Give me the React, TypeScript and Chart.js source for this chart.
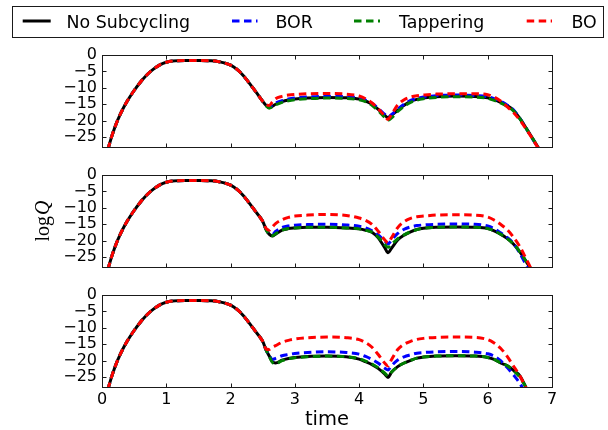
import React, { useEffect, useRef } from "react";
import { Chart, registerables } from "chart.js";

Chart.register(...registerables);

// ---------------- data ----------------
const LEGEND_LABELS = ["No Subcycling", "BOR", "Tappering", "BO"];
const COLORS = ["#000000", "#0000ff", "#008000", "#ff0000"];

const X_TICKS = [0, 1, 2, 3, 4, 5, 6, 7];
const Y_TICKS = [-25, -20, -15, -10, -5, 0];
const X_MIN = 0;
const X_MAX = 7;
const Y_MIN = -28;
const Y_MAX = 0;

// shared early part (all runs coincide up to t = 2.5)
const commonTimes = [0.05, 0.1, 0.2, 0.3, 0.4, 0.5, 0.6, 0.7, 0.8, 0.9, 1.0, 1.1, 1.3, 1.5, 1.7, 1.8, 1.9, 2.0, 2.1, 2.2, 2.3, 2.4, 2.5];
const commonLogQ = [-32.5, -28.2, -22.0, -17.4, -13.8, -10.8, -8.2, -6.0, -4.3, -3.0, -2.2, -1.85, -1.7, -1.7, -1.75, -1.95, -2.4, -3.1, -4.4, -6.3, -8.8, -11.4, -14.1];

const tailTimes = [2.55, 2.6, 2.65, 2.7, 2.8, 2.9, 3.0, 3.2, 3.5, 3.8, 4.0, 4.1, 4.2, 4.3, 4.4, 4.45, 4.5, 4.6, 4.7, 4.8, 4.9, 5.0, 5.2, 5.5, 5.8, 6.0, 6.1, 6.2, 6.3, 6.4, 6.5, 6.6, 6.7, 6.8];

// panel 1
const p1NoSub = [-15.3, -16.0, -15.6, -15.0, -14.2, -13.7, -13.4, -13.1, -12.9, -13.0, -13.4, -14.0, -15.0, -16.6, -18.4, -19.1, -18.4, -16.8, -15.3, -14.1, -13.5, -13.1, -12.7, -12.5, -12.6, -13.0, -13.6, -14.4, -15.4, -16.8, -19.3, -22.3, -25.4, -28.6];
const p1BOR = [-15.3, -15.9, -15.2, -14.6, -13.9, -13.4, -13.1, -12.8, -12.6, -12.7, -13.1, -13.7, -14.7, -16.3, -18.1, -18.9, -18.2, -16.5, -15.0, -13.8, -13.2, -12.8, -12.4, -12.2, -12.3, -12.7, -13.3, -14.1, -15.2, -16.7, -19.3, -22.4, -25.6, -28.8];
const p1Tap = [-15.4, -16.2, -15.8, -15.2, -14.4, -13.9, -13.6, -13.3, -13.1, -13.2, -13.6, -14.2, -15.3, -17.0, -19.0, -19.8, -19.2, -17.2, -15.6, -14.4, -13.7, -13.3, -12.9, -12.7, -12.8, -13.2, -13.8, -14.6, -15.6, -17.0, -19.4, -22.4, -25.5, -28.6];
const p1BO = [-15.0, -15.4, -14.3, -13.3, -12.6, -12.2, -12.0, -11.8, -11.7, -11.9, -12.5, -13.3, -14.6, -16.4, -18.6, -19.6, -18.2, -15.2, -13.6, -12.8, -12.4, -12.2, -11.9, -11.8, -11.8, -12.1, -12.8, -14.0, -15.7, -17.5, -19.8, -22.6, -25.6, -28.8];

// panel 2
const p2NoSub = [-16.5, -18.0, -18.6, -18.0, -16.8, -16.3, -16.1, -15.9, -15.9, -16.1, -16.4, -16.8, -17.4, -19.2, -22.2, -23.7, -22.4, -19.8, -18.3, -17.3, -16.6, -16.2, -15.9, -15.8, -15.9, -16.3, -17.0, -18.0, -19.3, -21.0, -23.4, -26.4, -29.5, -33.0];
const p2BOR = [-16.4, -17.7, -18.1, -17.2, -16.0, -15.5, -15.3, -15.1, -15.0, -15.2, -15.6, -16.1, -17.0, -18.3, -20.2, -21.0, -19.9, -17.8, -16.5, -15.8, -15.4, -15.2, -15.0, -14.9, -15.0, -15.5, -16.3, -17.6, -19.0, -20.8, -23.8, -27.5, -31.0, -34.0];
const p2Tap = [-16.5, -18.0, -18.5, -17.9, -16.8, -16.3, -16.1, -15.9, -15.9, -16.1, -16.4, -16.8, -17.4, -19.0, -21.2, -22.0, -21.2, -19.4, -18.2, -17.3, -16.6, -16.2, -15.9, -15.8, -15.9, -16.3, -17.0, -18.0, -19.3, -21.0, -23.4, -26.4, -29.5, -33.0];
const p2BO = [-16.2, -16.8, -15.8, -14.8, -13.6, -12.9, -12.5, -12.2, -12.0, -12.3, -13.1, -13.8, -15.0, -17.2, -19.8, -20.6, -19.2, -16.0, -14.2, -13.2, -12.7, -12.5, -12.2, -12.1, -12.2, -12.8, -13.7, -15.0, -16.6, -18.9, -21.8, -25.6, -29.5, -33.0];

// panel 3
const p3NoSub = [-16.6, -18.5, -20.3, -20.7, -19.8, -19.3, -19.0, -18.7, -18.6, -18.8, -19.5, -20.3, -21.2, -22.4, -24.1, -25.1, -23.6, -21.8, -20.7, -19.9, -19.2, -18.9, -18.6, -18.5, -18.6, -19.0, -19.6, -20.7, -21.5, -22.9, -24.6, -28.3, -32.0, -36.0];
const p3BOR = [-16.6, -18.3, -19.6, -19.3, -18.5, -18.1, -17.8, -17.5, -17.3, -17.5, -18.0, -18.7, -19.6, -20.8, -22.3, -22.8, -21.6, -19.8, -18.8, -18.2, -17.7, -17.5, -17.3, -17.2, -17.4, -17.9, -18.6, -20.0, -22.0, -24.3, -26.9, -30.5, -34.0, -38.0];
const p3Tap = [-16.6, -18.6, -20.5, -20.9, -20.0, -19.4, -19.1, -18.8, -18.6, -18.8, -19.4, -20.1, -21.0, -22.2, -23.8, -24.6, -23.5, -21.8, -20.7, -19.9, -19.2, -18.9, -18.6, -18.5, -18.6, -19.0, -19.6, -20.6, -21.5, -23.0, -25.0, -28.3, -32.0, -36.0];
const p3BO = [-16.4, -16.6, -15.9, -15.4, -14.4, -13.8, -13.4, -13.0, -12.8, -13.0, -13.6, -14.5, -15.9, -18.2, -20.8, -21.6, -19.8, -16.6, -15.0, -14.1, -13.5, -13.2, -12.9, -12.8, -12.9, -13.6, -14.6, -16.2, -18.6, -21.6, -24.6, -28.5, -32.0, -36.0];

const PANEL_SERIES = [
  [p1NoSub, p1BOR, p1Tap, p1BO],
  [p2NoSub, p2BOR, p2Tap, p2BO],
  [p3NoSub, p3BOR, p3Tap, p3BO],
];

// ---------------- layout ----------------
const W = 608;
const FONT = "'DejaVu Sans', sans-serif";
const DASH = [7.5, 4.5];

type PanelLayout = {
  top: number;
  height: number;
  padTop: number;
  padBottom: number;
  showX: boolean;
};

const PANELS: PanelLayout[] = [
  { top: 0, height: 160, padTop: 55, padBottom: 13, showX: false },
  { top: 160, height: 120, padTop: 15, padBottom: 13, showX: false },
  { top: 280, height: 150, padTop: 15, padBottom: 0, showX: true },
];

const fmt = (v: number) => (v < 0 ? "\u2212" + String(-v) : String(v));

const framePlugin = {
  id: "frame",
  afterDatasetsDraw(chart: any) {
    const { ctx, chartArea, scales } = chart;
    const L = Math.round(chartArea.left) + 0.5;
    const R = Math.round(chartArea.right) + 0.5;
    const T = Math.round(chartArea.top) + 0.5;
    const B = Math.round(chartArea.bottom) + 0.5;
    ctx.save();
    ctx.strokeStyle = "#1a1a1a";
    ctx.lineWidth = 1;
    ctx.setLineDash([]);
    ctx.strokeRect(L, T, R - L, B - T);
    ctx.beginPath();
    for (const xv of X_TICKS) {
      const px = Math.round(scales.x.getPixelForValue(xv)) + 0.5;
      ctx.moveTo(px, B);
      ctx.lineTo(px, B - 4);
      ctx.moveTo(px, T);
      ctx.lineTo(px, T + 4);
    }
    for (const yv of Y_TICKS) {
      const py = Math.round(scales.y.getPixelForValue(yv)) + 0.5;
      ctx.moveTo(L, py);
      ctx.lineTo(L + 4, py);
      ctx.moveTo(R, py);
      ctx.lineTo(R - 4, py);
    }
    ctx.stroke();
    ctx.restore();
  },
};

const LEGEND_HANDLES = [
  [22.7, 50.7],
  [232, 257.5],
  [354, 380],
  [526.7, 552],
];
const LEGEND_TEXT_X = [66.6, 275.5, 399, 571.5];

const legendPlugin = {
  id: "boxLegend",
  afterDraw(chart: any) {
    const ctx = chart.ctx;
    ctx.save();
    ctx.strokeStyle = "#1a1a1a";
    ctx.lineWidth = 1;
    ctx.setLineDash([]);
    ctx.strokeRect(12.5, 6.5, 591, 31);
    for (let i = 0; i < LEGEND_LABELS.length; i++) {
      ctx.beginPath();
      ctx.strokeStyle = COLORS[i];
      ctx.lineWidth = 3;
      ctx.lineCap = "butt";
      ctx.setLineDash(i === 0 ? [] : DASH);
      ctx.moveTo(LEGEND_HANDLES[i][0], 21);
      ctx.lineTo(LEGEND_HANDLES[i][1], 21);
      ctx.stroke();
      ctx.setLineDash([]);
      ctx.fillStyle = "#000";
      ctx.font = "17.4px " + FONT;
      ctx.textBaseline = "alphabetic";
      ctx.textAlign = "left";
      ctx.fillText(LEGEND_LABELS[i], LEGEND_TEXT_X[i], 27.5);
    }
    ctx.restore();
  },
};

const ylabelPlugin = {
  id: "ylabel",
  afterDraw(chart: any) {
    const ctx = chart.ctx;
    ctx.save();
    const cy = (chart.chartArea.top + chart.chartArea.bottom) / 2;
    ctx.translate(49, cy);
    ctx.rotate(-Math.PI / 2);
    ctx.fillStyle = "#000";
    ctx.textBaseline = "alphabetic";
    ctx.textAlign = "left";
    const f1 = "20px 'Liberation Serif', serif";
    const f2 = "italic 20px 'Liberation Serif', serif";
    ctx.font = f1;
    const w1 = ctx.measureText("log").width;
    ctx.font = f2;
    const w2 = ctx.measureText("Q").width;
    const start = -(w1 + 1 + w2) / 2;
    ctx.font = f1;
    ctx.fillText("log", start, 0);
    ctx.font = f2;
    ctx.fillText("Q", start + w1 + 1, 0);
    ctx.restore();
  },
};

function makeChart(canvas: HTMLCanvasElement, idx: number): Chart {
  const layout = PANELS[idx];
  const series = PANEL_SERIES[idx];
  const times = [...commonTimes, ...tailTimes];
  const datasets = series.map((vals, i) => {
    const ys = [...commonLogQ, ...vals];
    return {
      label: LEGEND_LABELS[i],
      data: times.map((t, k) => ({ x: t, y: ys[k] })),
      borderColor: COLORS[i],
      backgroundColor: COLORS[i],
      borderWidth: 3,
      borderDash: i === 0 ? [] : DASH,
      borderCapStyle: "butt" as const,
      borderJoinStyle: "round" as const,
      pointRadius: 0,
      fill: false,
      cubicInterpolationMode: "monotone" as const,
      clip: 0,
      order: 3 - i,
    };
  });

  const plugins: any[] = [framePlugin];
  if (idx === 0) plugins.push(legendPlugin);
  if (idx === 1) plugins.push(ylabelPlugin);

  return new Chart(canvas, {
    type: "line",
    data: { datasets },
    plugins,
    options: {
      animation: false,
      responsive: false,
      devicePixelRatio: 1,
      events: [],
      layout: {
        padding: { left: 0, right: 56, top: layout.padTop, bottom: layout.padBottom },
      },
      plugins: {
        legend: { display: false },
        tooltip: { enabled: false },
        title: { display: false },
      },
      scales: {
        x: {
          type: "linear",
          min: X_MIN,
          max: X_MAX,
          display: layout.showX,
          grid: { display: false, drawTicks: false },
          border: { display: false },
          afterBuildTicks: (s: any) => {
            s.ticks = X_TICKS.map((v) => ({ value: v }));
          },
          afterFit: (s: any) => {
            s.height = layout.showX ? 43 : 0;
          },
          ticks: {
            padding: 5,
            autoSkip: false,
            color: "#000",
            maxRotation: 0,
            font: { family: FONT, size: 16, lineHeight: 1 },
            callback: (v: any) => fmt(Number(v)),
          },
          title: {
            display: layout.showX,
            text: "time",
            color: "#000",
            padding: { top: 0, bottom: 0 },
            font: { family: FONT, size: 19.5, lineHeight: 1 },
          },
        },
        y: {
          type: "linear",
          min: Y_MIN,
          max: Y_MAX,
          grid: { display: false, drawTicks: false },
          border: { display: false },
          afterBuildTicks: (s: any) => {
            s.ticks = Y_TICKS.map((v) => ({ value: v }));
          },
          afterFit: (s: any) => {
            s.width = 102;
          },
          ticks: {
            padding: 5,
            autoSkip: false,
            color: "#000",
            font: { family: FONT, size: 16, lineHeight: 1 },
            callback: (v: any) => fmt(Number(v)),
          },
        },
      },
    } as any,
  });
}

export default function App() {
  const r0 = useRef<HTMLCanvasElement>(null);
  const r1 = useRef<HTMLCanvasElement>(null);
  const r2 = useRef<HTMLCanvasElement>(null);

  useEffect(() => {
    const refs = [r0, r1, r2];
    const charts: Chart[] = [];
    refs.forEach((r, i) => {
      if (r.current) charts.push(makeChart(r.current, i));
    });
    return () => {
      charts.forEach((c) => c.destroy());
    };
  }, []);

  const refs = [r0, r1, r2];
  return (
    <div
      style={{
        position: "absolute",
        left: 0,
        top: 0,
        width: W,
        height: 430,
        background: "#ffffff",
        overflow: "hidden",
      }}
    >
      {PANELS.map((p, i) => (
        <canvas
          key={i}
          ref={refs[i]}
          width={W}
          height={p.height}
          style={{
            position: "absolute",
            left: 0,
            top: p.top,
            width: W,
            height: p.height,
            display: "block",
          }}
        />
      ))}
    </div>
  );
}
